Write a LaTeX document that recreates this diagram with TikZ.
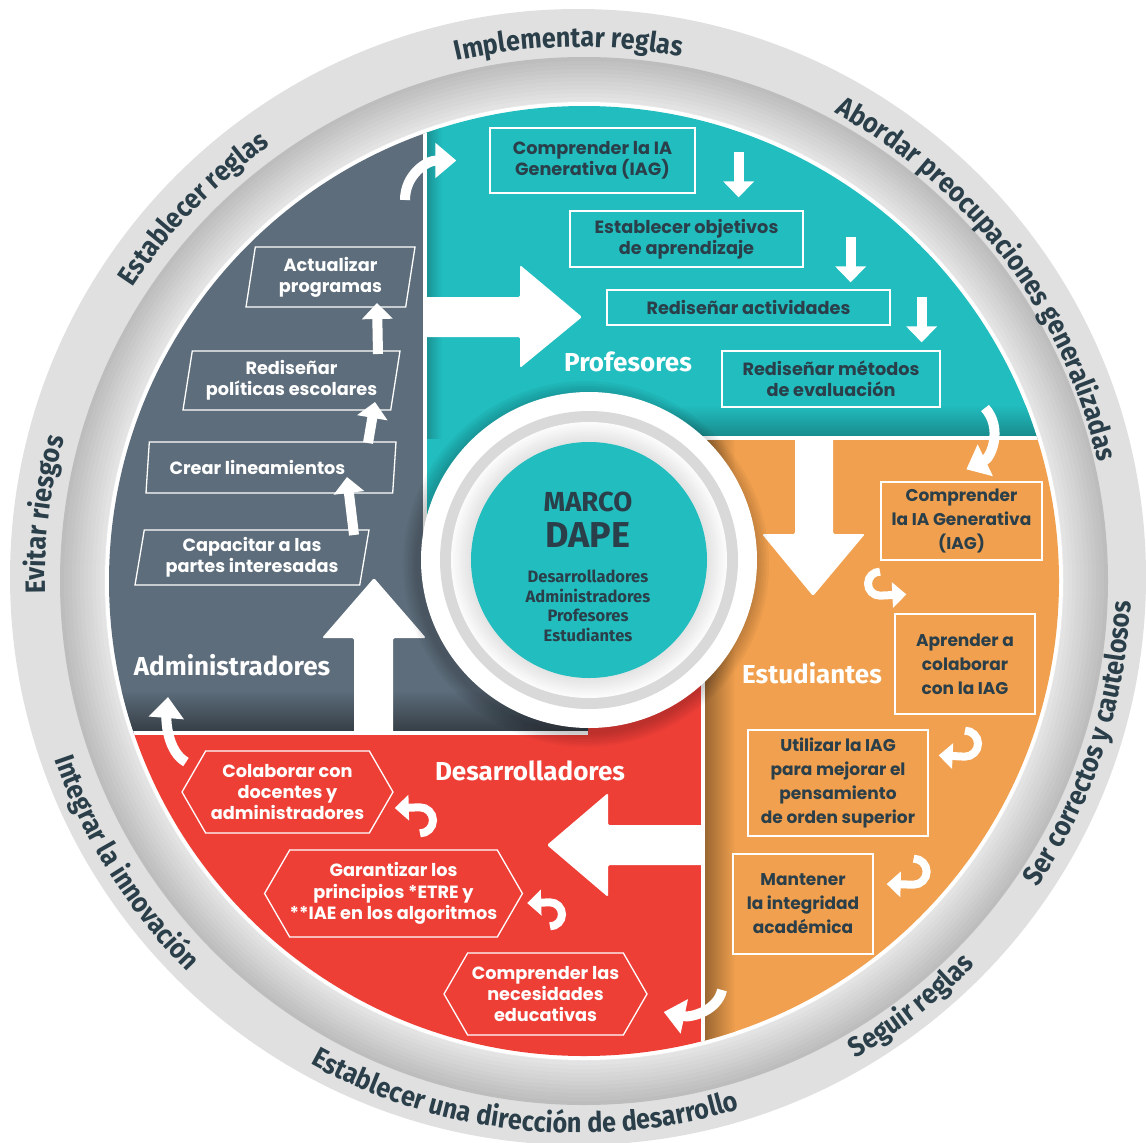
\documentclass[tikz,border=0pt]{standalone}
\usepackage{fontspec}
\setmainfont{Poppins}
\newfontfamily\headfont{Fira Sans}
\newfontfamily\ringfamily{Fira Sans}[FakeStretch=0.9]
\usetikzlibrary{arrows.meta,shapes.geometric,shapes.symbols,decorations.text}
\definecolor{ink}{HTML}{2A3F49}
\definecolor{admin}{HTML}{5D6D7B}
\definecolor{prof}{HTML}{22BDBF}
\definecolor{stud}{HTML}{F0A04E}
\definecolor{dev}{HTML}{EE3F37}
\newcommand\boxfont{\bfseries\fontsize{17.7}{21.3}\selectfont}
\newcommand\ringfont{\ringfamily\bfseries\fontsize{28}{28}\selectfont}
\tikzset{
  taskbox/.style={draw=white, line width=1.3pt, text=ink, align=center, inner sep=0pt, font=\boxfont},
  studbox/.style={taskbox, font=\bfseries\fontsize{17}{24}\selectfont},
  adminbox/.style={draw=white, line width=1.3pt, text=white, trapezium, trapezium left angle=77,
    trapezium right angle=103, trapezium stretches body, inner sep=0pt, align=center, font=\boxfont},
  devbox/.style={draw=white, line width=1.3pt, text=white, signal, signal to=west and east,
    signal pointer angle=120, inner sep=0pt, align=center, font=\boxfont},
  grouplabel/.style={text=white, font=\headfont\bfseries\fontsize{26}{26}\selectfont},
  steparrow/.style={white, line width=10pt, -{Triangle[width=30pt,length=16pt]}},
  turnarrow/.style={white, line width=8pt, -{Triangle[width=25pt,length=14pt]}},
  passarrow/.style={white, line width=10pt, -{Triangle[width=34pt,length=21pt]}},
  bigarrow/.style={fill=white, rounded corners=1.5pt},
  ringtext/.style={decorate, decoration={text along path, text align=center}}
}
\begin{document}
\begin{tikzpicture}[x=1pt,y=1pt]
    \useasboundingbox (0,0) rectangle (1146,-1143);
    \coordinate (C0) at (578,-577);
    \coordinate (CT) at (578,-580);
    \coordinate (C1) at (584,-581);
    \coordinate (C2) at (589,-560);

    \fill[gray!24] (C0) circle (568);
    \foreach \k in {0,...,11}{
      \pgfmathtruncatemacro\tone{52-3*\k}
      \fill[gray!\tone] (C1) circle ({524-4*\k});
    }
    \fill[white] (C1) circle (479);

    \begin{scope}
      \clip (C1) circle (475);
      \fill[admin] (50,-50) -- (425,-50) -- (425,-560) -- (588,-560) -- (588,-733) -- (50,-733) -- cycle;
      \fill[prof] (425,-50) -- (1100,-50) -- (1100,-438) -- (588,-438) -- (588,-560) -- (425,-560) -- cycle;
      \fill[stud] (1100,-438) -- (1100,-1100) -- (703,-1100) -- (703,-560) -- (588,-560) -- (588,-438) -- cycle;
      \fill[dev] (703,-1100) -- (50,-1100) -- (50,-733) -- (588,-733) -- (588,-560) -- (703,-560) -- cycle;
      \shade[top color=admin, bottom color=admin!55!black] (50,-690) rectangle (588,-733);
      \shade[top color=prof, bottom color=prof!72!black] (588,-405) rectangle (1100,-438);
      \shade[left color=prof!75!black, right color=prof] (425,-50) rectangle (442,-438);
      \shade[left color=stud!62!black, right color=stud] (703,-438) rectangle (735,-1100);
      \draw[white, line width=3.5pt] (425,-50) -- (425,-560);
      \draw[white, line width=3.5pt] (588,-438) -- (1100,-438);
      \draw[white, line width=3.5pt] (703,-560) -- (703,-1100);
      \draw[white, line width=3.5pt] (50,-733) -- (588,-733);
    \end{scope}

    \fill[bigarrow] (425,-297) -- (520,-297) -- (520,-265) -- (582,-317) -- (520,-368) -- (520,-337) -- (425,-337) -- cycle;
    \fill[bigarrow] (795,-438) -- (795,-534) -- (762,-534) -- (813,-596) -- (865,-534) -- (833,-534) -- (833,-438) -- cycle;
    \fill[bigarrow] (703,-825) -- (608,-825) -- (608,-793) -- (547,-845) -- (608,-897) -- (608,-865) -- (703,-865) -- cycle;
    \fill[bigarrow] (354,-733) -- (354,-638) -- (322,-638) -- (374,-578) -- (426,-638) -- (393,-638) -- (393,-733) -- cycle;

    \foreach \k in {1,...,6}
      \fill[black, opacity=0.035] ([shift={(-3,-4)}]C2) circle ({168+2.5*\k});
    \fill[white] (C2) circle (168);
    \fill[gray!30] (C2) circle (149);
    \foreach \k in {0,...,9}{
      \pgfmathtruncatemacro\tone{3+2*\k}
      \fill[gray!\tone] (C2) circle ({138-2*\k});
    }
    \fill[prof] (C2) circle (118);
    \node[text=ink, font=\headfont\bfseries\fontsize{27.5}{27.5}\selectfont] (marco) at (588,-502) {MARCO};
    \node[text=ink, font=\headfont\bfseries\fontsize{36}{36}\selectfont] (dape) at (588,-535) {DAPE};
    \node[text=ink, align=center, font=\headfont\bfseries\fontsize{16.5}{19.5}\selectfont] (roles) at (588,-606)
      {Desarrolladores\\Administradores\\Profesores\\Estudiantes};

    \node[taskbox, minimum width=205pt, minimum height=65pt] (t1) at (592.5,-160.5) {Comprender la IA\\Generativa (IAG)};
    \node[taskbox, minimum width=233pt, minimum height=56pt] (t2) at (686.5,-239) {Establecer objetivos\\de aprendizaje};
    \node[taskbox, minimum width=283pt, minimum height=35pt] (t3) at (748.5,-307.5) {Rediseñar actividades};
    \node[taskbox, minimum width=218pt, minimum height=56pt] (t4) at (831,-379) {Rediseñar métodos\\de evaluación};

    \node[adminbox, minimum width=169pt, minimum height=60pt] (g1) at (330.5,-277) {Actualizar\\programas};
    \node[adminbox, minimum width=217pt, minimum height=59pt] (g2) at (291.5,-380.5) {Rediseñar\\políticas escolares};
    \node[adminbox, minimum width=250pt, minimum height=51pt] (g3) at (271,-467.5) {Crear lineamientos\hspace*{27pt}};
    \node[adminbox, minimum width=234pt, minimum height=55pt] (g4) at (252,-557.5) {Capacitar a las\\partes interesadas};

    \node[studbox, minimum width=161pt, minimum height=78pt] (o1) at (961.5,-521) {Comprender\\la IA Generativa\\(IAG)};
    \node[studbox, minimum width=140pt, minimum height=100pt] (o2) at (965,-664) {Aprender a\\colaborar\\con la IAG};
    \node[studbox, minimum width=180pt, minimum height=106pt] (o3) at (838,-783) {Utilizar la IAG\\para mejorar el\\pensamiento\\de orden superior};
    \node[studbox, minimum width=140pt, minimum height=100pt] (o4) at (803,-904) {Mantener\\la integridad\\académica};

    \node[devbox, minimum width=211pt, minimum height=82pt] (h1) at (287.5,-792) {Colaborar con\\docentes y\\administradores};
    \node[devbox, minimum width=253pt, minimum height=87pt] (h2) at (393.5,-893.5) {Garantizar los\\principios *ETRE y\\**IAE en los algoritmos};
    \node[devbox, minimum width=203pt, minimum height=82pt] (h3) at (545.5,-994) {Comprender las\\necesidades\\educativas};

    \node[grouplabel] (profs) at (628,-362) {Profesores};
    \node[grouplabel] (studs) at (812,-673) {Estudiantes};
    \node[grouplabel] (devs) at (530,-771) {Desarrolladores};
    \node[grouplabel] (admins) at (232,-665) {Administradores};

    \draw[steparrow] ([shift={(43pt,-25pt)}]t1.north east) -- ([shift={(-65pt,13pt)}]t2.north east);
    \draw[steparrow] ([shift={(47pt,-27pt)}]t2.north east) -- ([shift={(-40pt,7pt)}]t3.north east);
    \draw[steparrow] ([shift={(31pt,-8pt)}]t3.north east) -- ([shift={(-19pt,8pt)}]t4.north east);

    \draw[steparrow] ([shift={(102pt,22.5pt)}]g4.center) -- ([shift={(76pt,-9.5pt)}]g3.center);
    \draw[steparrow] ([shift={(97pt,24.5pt)}]g3.center) -- ([shift={(83.5pt,-21.5pt)}]g2.center);
    \draw[steparrow] ([shift={(86.5pt,26.5pt)}]g2.center) -- ([shift={(46.5pt,-26pt)}]g1.center);

    \draw[turnarrow] ([shift={(-81.5pt,-11pt)}]o1.south) arc[start angle=90, end angle=270, radius=12]
      -- ([shift={(12pt,19pt)}]o2.north west);
    \draw[turnarrow] ([shift={(0pt,-16pt)}]o2.south) arc[start angle=90, end angle=-90, radius=13]
      -- ([shift={(10pt,-26pt)}]o3.north east);
    \draw[turnarrow] ([shift={(-15pt,-22pt)}]o3.south east) arc[start angle=90, end angle=-90, radius=13]
      -- ([shift={(13pt,20pt)}]o4.east);

    \draw[turnarrow] ([shift={(4.5pt,26pt)}]h3.north) arc[start angle=-90, end angle=90, radius=12]
      -- ([shift={(4pt,-9.5pt)}]h2.east);
    \draw[turnarrow] ([shift={(26.5pt,16pt)}]h2.north) arc[start angle=-90, end angle=90, radius=13]
      -- ([shift={(1pt,-16pt)}]h1.east);

    \coordinate (gtail) at (405,-200);
    \coordinate (ttail) at (985,-408);
    \coordinate (stail) at (722,-990);
    \coordinate (dtail) at (186,-762);
    \coordinate (dhead) at (168,-697);
    \draw[passarrow] (gtail) .. controls +(0,25) and +(-30,0) .. ([xshift=-33pt]t1.west);
    \draw[passarrow] (ttail) .. controls +(18,-20) and +(25,12) .. ([shift={(86pt,12pt)}]o1.north west);
    \draw[passarrow] (stail) .. controls +(-4,-20) and +(28,-6) .. ([shift={(16pt,-18pt)}]h3.east);
    \draw[passarrow] (dtail) .. controls +(-18,10) and +(-2,-25) .. (dhead);

    \path[ringtext, decoration={text={|\ringfont\color{ink}|Implementar reglas}}] ([shift={(118:533)}]CT) arc (118:64:533);
    \path[ringtext, decoration={text={|\ringfont\color{ink}|Establecer reglas}}] ([shift={(162:533)}]CT) arc (162:110:533);
    \path[ringtext, decoration={text={|\ringfont\color{ink}|Abordar preocupaciones generalizadas}}] ([shift={(72:533)}]CT) arc (72:2:533);
    \path[ringtext, decoration={text={|\ringfont\color{ink}|Evitar riesgos}}] ([shift={(196:533)}]CT) arc (196:150:533);
    \path[ringtext, decoration={text={|\ringfont\color{ink}|Ser correctos y cautelosos}}] ([shift={(-44:553)}]CT) arc (-44:8:553);
    \path[ringtext, decoration={text={|\ringfont\color{ink}|Seguir reglas}}] ([shift={(-72:553)}]CT) arc (-72:-32:553);
    \path[ringtext, decoration={text={|\ringfont\color{ink}|Establecer una dirección de desarrollo}}] ([shift={(-135:553)}]CT) arc (-135:-57:553);
    \path[ringtext, decoration={text={|\ringfont\color{ink}|Integrar la innovación}}] ([shift={(186:553)}]CT) arc (186:238:553);
\end{tikzpicture}
\end{document}
